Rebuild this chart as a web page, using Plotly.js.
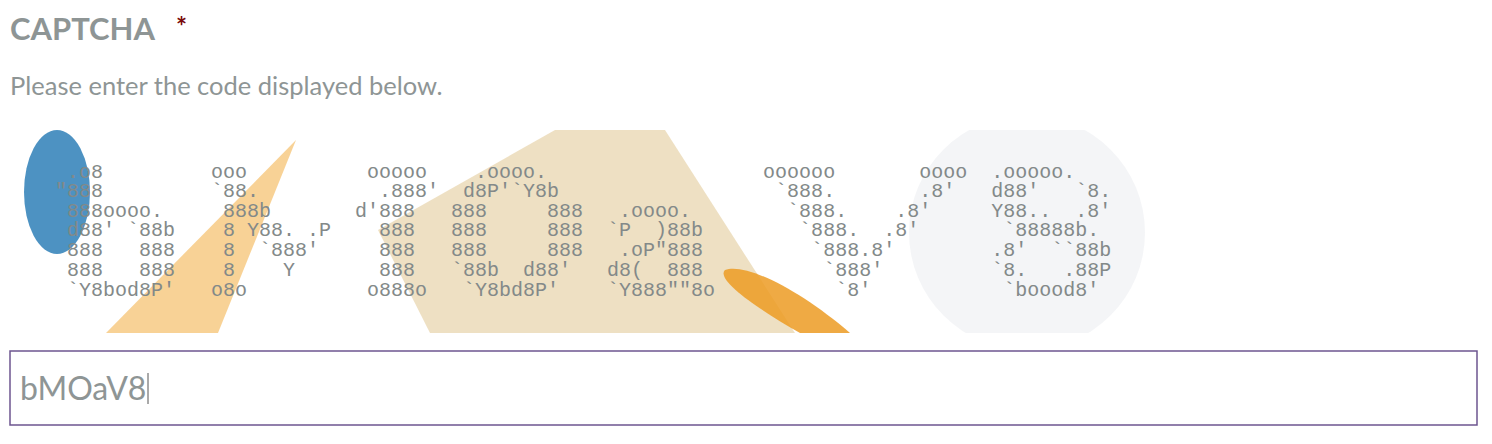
<!DOCTYPE html>
<html>
<head>
<meta charset="utf-8">
<script src="https://cdn.plot.ly/plotly-3.0.1.min.js"></script>
<style>html,body{margin:0;padding:0;background:#fff}#captcha{width:1492px;height:444px}</style>
</head>
<body>
<div id="captcha"></div>
<script>
// ascii glyphs of the code, one array per letter
const glyph_b = [" .o8", "\"888", " 888oooo.", " d88' `88b", " 888   888", " 888   888", " `Y8bod8P'"];
const glyph_M = ["ooo          ooooo", "`88.          .888'", " 888b       d'888", " 8 Y88. .P    888", " 8  `888'     888", " 8    Y       888", "o8o          o888o"];
const glyph_O = ["  .oooo.", " d8P'`Y8b", "888     888", "888     888", "888     888", "`88b  d88'", " `Y8bd8P'"];
const glyph_a = ["", "", " .oooo.", "`P  )88b", " .oP\"888", "d8(  888", "`Y888\"\"8o"];
const glyph_V = ["oooooo       oooo", " `888.       .8'", "  `888.    .8'", "   `888.  .8'", "    `888.8'", "     `888'", "      `8'"];
const glyph_8 = [".ooooo.", "d88'   `8.", "Y88..  .8'", " `88888b.", ".8'  ``88b", "`8.   .88P", " `boood8'"];
const glyph_cols = [0, 13, 33, 46, 59, 78];
const typed_code = "bMOaV8";

const Captcha = {
    px: x => x / 1160,
    py: y => (333 - y) / 203,
    buildRows: () => {
        let glyphs = [glyph_b, glyph_M, glyph_O, glyph_a, glyph_V, glyph_8];
        let rows = [];
        for (let r = 0; r < 7; r++) {
            let line = "";
            glyphs.forEach((g, i) => {
                while (line.length < glyph_cols[i]) line += " ";
                line += g[r] || "";
            });
            rows.push(line.replace(/ /g, "\u00a0"));
        }
        return rows;
    },
    draw: () => {
        const px = Captcha.px, py = Captcha.py;
        let rows = Captcha.buildRows();
        let rowY = [172, 191, 211, 230, 250, 270, 290];
        let annotations = rows.map((t, i) => ({
            text: t, xref: 'paper', yref: 'paper', x: px(53), y: py(rowY[i]),
            xanchor: 'left', yanchor: 'middle', showarrow: false,
            font: {family: 'Courier New, Liberation Mono, monospace', size: 20, color: '#838989'}
        }));
        annotations.push(
            {text: '<b>CAPTCHA</b>', xref: 'paper', yref: 'paper', x: px(8), y: py(28), xanchor: 'left', yanchor: 'middle', showarrow: false, font: {family: 'Lato', size: 31, color: '#8e9595'}},
            {text: '<b>*</b>', xref: 'paper', yref: 'paper', x: px(174), y: py(26), xanchor: 'left', yanchor: 'middle', showarrow: false, font: {family: 'Lato', size: 26, color: '#7a0a0a'}},
            {text: 'Please enter the code displayed below.', xref: 'paper', yref: 'paper', x: px(8), y: py(85), xanchor: 'left', yanchor: 'middle', showarrow: false, font: {family: 'Lato', size: 25.5, color: '#8e9595'}},
            {text: typed_code, xref: 'paper', yref: 'paper', x: px(18), y: py(387), xanchor: 'left', yanchor: 'middle', showarrow: false, font: {family: 'Lato', size: 32, color: '#8e9595'}}
        );
        let shapes = [
            {type: 'circle', xref: 'x', yref: 'y', x0: 909, x1: 1145, y0: 115, y1: 350, fillcolor: 'rgba(236,238,241,0.6)', line: {width: 0}, layer: 'above'},
            {type: 'path', xref: 'x', yref: 'y', path: 'M378,230 L555,130 L665,130 L795,333 L430,333 Z', fillcolor: 'rgba(226,204,155,0.6)', line: {width: 0}, layer: 'above'},
            {type: 'path', xref: 'x', yref: 'y', path: 'M106,333 L296,140 L218,333 Z', fillcolor: 'rgba(243,180,80,0.6)', line: {width: 0}, layer: 'above'},
            {type: 'path', xref: 'x', yref: 'y', path: 'M725,270 C745,262 800,290 850,333 L800,333 C760,310 715,280 725,270 Z', fillcolor: 'rgba(236,155,35,0.85)', line: {width: 0}, layer: 'above'},
            {type: 'circle', xref: 'x', yref: 'y', x0: 24, x1: 90, y0: 130, y1: 254, fillcolor: 'rgba(58,134,187,0.9)', line: {width: 0}, layer: 'above'},
            {type: 'rect', xref: 'paper', yref: 'paper', x0: px(10), x1: px(1477), y0: py(351), y1: py(425), line: {color: '#6d5690', width: 1.5}},
            {type: 'line', xref: 'paper', yref: 'paper', x0: px(148), x1: px(148), y0: py(373), y1: py(404), line: {color: '#555', width: 1}}
        ];
        let layout = {
            width: 1492, height: 444,
            margin: {l: 0, r: 332, t: 130, b: 111},
            paper_bgcolor: '#fff', plot_bgcolor: 'rgba(0,0,0,0)',
            xaxis: {range: [0, 1160], visible: false, fixedrange: true},
            yaxis: {range: [333, 130], visible: false, fixedrange: true},
            showlegend: false,
            shapes: shapes,
            annotations: annotations
        };
        Plotly.newPlot('captcha', [{x: [], y: [], type: 'scatter'}], layout, {staticPlot: true});
    }
};

Captcha.draw();
</script>
</body>
</html>
